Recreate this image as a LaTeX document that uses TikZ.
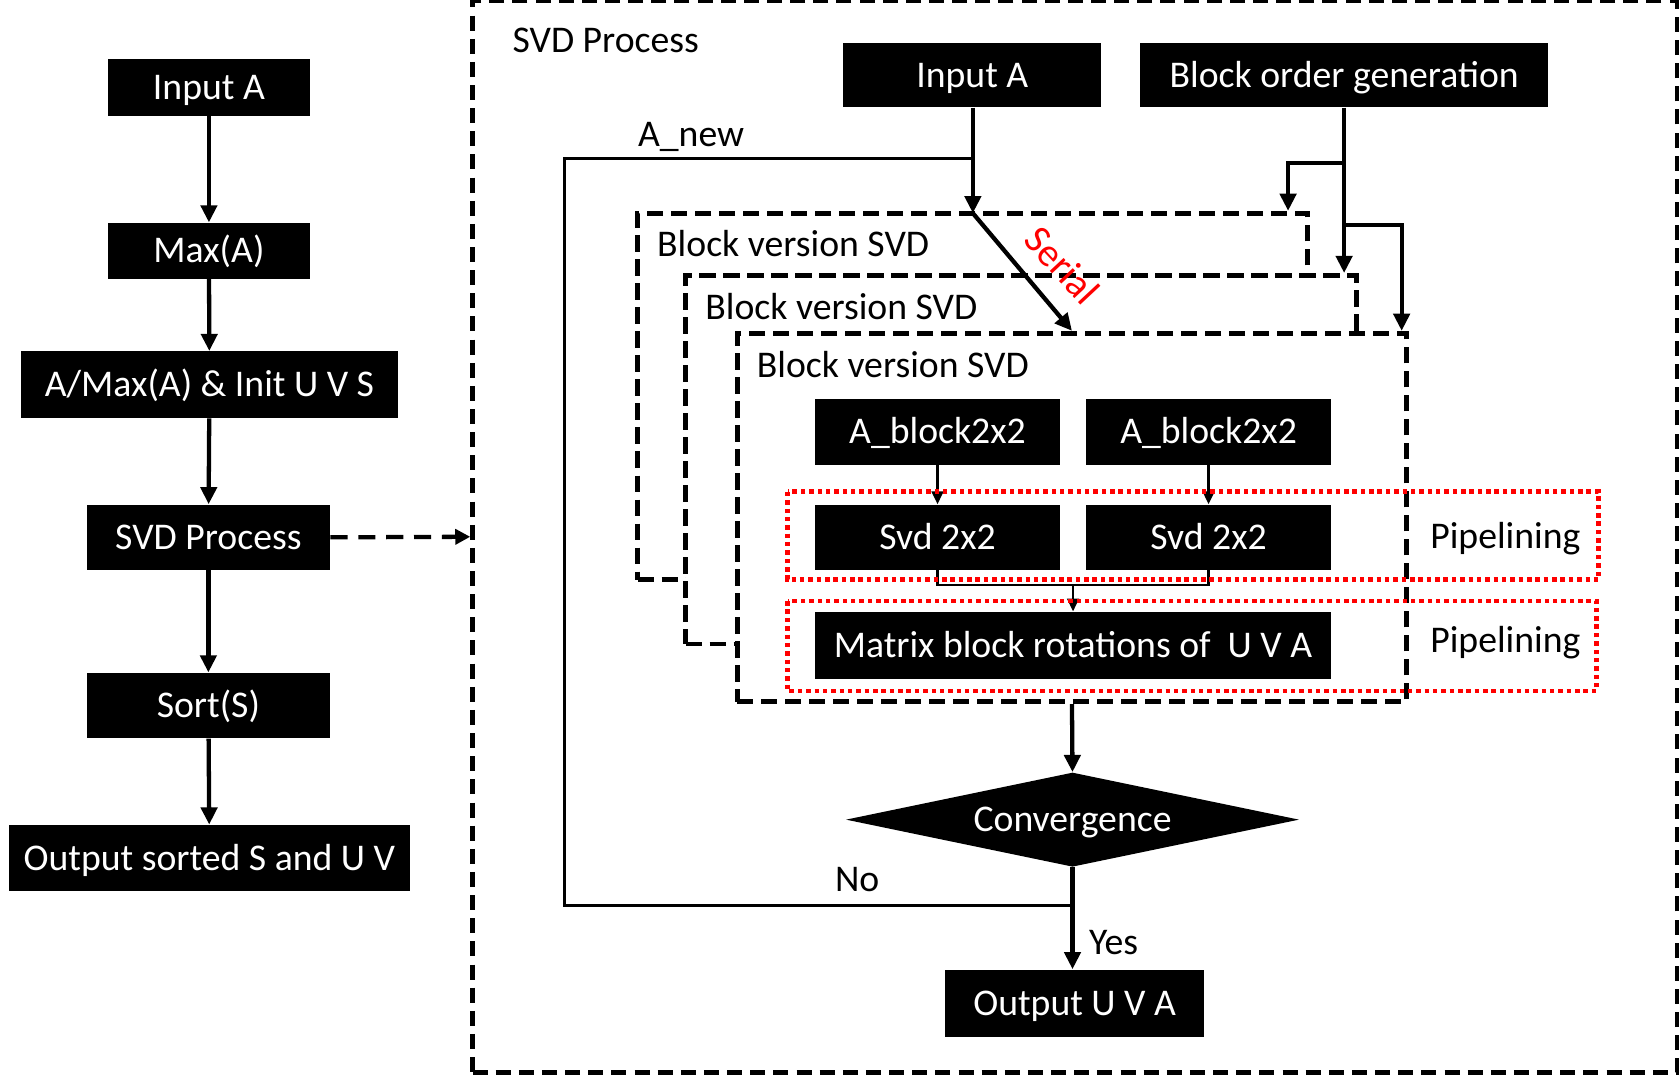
\documentclass[tikz,border=0pt]{standalone}
\usepackage{fontspec}
\setmainfont{Carlito}
\usetikzlibrary{arrows.meta,shapes.geometric,calc}
\begin{document}
\begin{tikzpicture}[x=0.5pt,y=-0.5pt,
  every node/.style={font=\fontsize{17.6}{20}\selectfont,text height=11.3pt,text depth=0pt},
  blk/.style={fill=black,text=white,inner sep=0pt,draw=none},
  arr/.style={line width=2pt,-{Triangle[length=8pt,width=7.5pt]}},
  tarr/.style={line width=1.1pt,-{Triangle[length=6pt,width=5.5pt]}},
  loopline/.style={line width=1.6pt},
  dbox/.style={draw=black,fill=white,line width=2.2pt,dash pattern=on 7.6pt off 3.6pt,inner sep=0pt},
  obox/.style={draw=black,line width=2.1pt,dash pattern=on 7pt off 3.8pt,inner sep=0pt},
  rbox/.style={draw=red,line width=2.2pt,dash pattern=on 2.1pt off 1.8pt},
  lbl/.style={text=black,inner sep=0pt}
]
\useasboundingbox (0,0) rectangle (1568,1005);

% ---------- left column ----------
\node[blk,minimum width=94pt,minimum height=26.5pt] (inA) at (195,81.5) {Input A};
\node[blk,minimum width=94pt,minimum height=26pt] (maxA) at (195,234) {Max(A)};
\node[blk,minimum width=175.5pt,minimum height=31pt] (norm) at (195.5,359) {A/Max(A) \& Init U V S};
\node[blk,minimum width=113.5pt,minimum height=30.5pt] (svdp) at (194.5,501.5) {SVD Process};
\node[blk,minimum width=113.5pt,minimum height=30.5pt] (sort) at (194.5,658.5) {Sort(S)};
\node[blk,minimum width=187.5pt,minimum height=31pt] (outS) at (195.5,801) {Output sorted S and U V};

\draw[arr] (inA) -- (maxA);
\draw[arr] (maxA) -- (norm);
\draw[arr] (norm) -- (svdp);
\draw[arr] (svdp) -- (sort);
\draw[arr] (sort) -- (outS);

% ---------- outer SVD process box ----------
\node[obox,minimum width=562pt,minimum height=500pt] (outer) at (1003,501) {};
\node[lbl,anchor=west] (svdlbl) at (478,38) {SVD Process};
\draw[line width=2pt,dash pattern=on 8pt off 5pt,-{Triangle[length=7pt,width=7pt]}] (svdp.east) -- (outer.west);

% ---------- top nodes ----------
\node[blk,minimum width=120.5pt,minimum height=30pt] (inA2) at (907.5,70) {Input A};
\node[blk,minimum width=190.5pt,minimum height=30pt] (bog) at (1254.5,70) {Block order generation};

% ---------- stacked block boxes ----------
\node[dbox,minimum width=312.5pt,minimum height=171pt] (b1) at (907.5,370) {};
\node[lbl,anchor=west] (b1l) at (613,228) {Block version SVD};
\node[dbox,minimum width=313pt,minimum height=172pt] (b2) at (953,429) {};
\node[lbl,anchor=west] (b2l) at (658,287) {Block version SVD};
\node[dbox,minimum width=312.5pt,minimum height=172pt] (b3) at (1000.5,483) {};
\node[lbl,anchor=west] (b3l) at (706,341) {Block version SVD};

% ---------- inner contents ----------
\node[blk,minimum width=114pt,minimum height=31pt] (ab1) at (875,403) {A\_block2x2};
\node[blk,minimum width=114pt,minimum height=31pt] (ab2) at (1128,403) {A\_block2x2};
\node[blk,minimum width=114pt,minimum height=30.5pt] (sv1) at (875,501.5) {Svd 2x2};
\node[blk,minimum width=114pt,minimum height=30.5pt] (sv2) at (1128,501.5) {Svd 2x2};
\node[blk,minimum width=240.5pt,minimum height=31.5pt] (mat) at (1001.5,602.5) {Matrix block rotations of\ \ U V A};

\draw[tarr] (ab1) -- (sv1);
\draw[tarr] (ab2) -- (sv2);
\coordinate (jm) at (1001.5,546);
\draw[line width=1.1pt] (sv1.south) |- (jm) -| (sv2.south);
\draw[tarr] (jm) -- (mat.north);

% pipelining boxes
\draw[rbox] (735,459) rectangle (1492,541);
\draw[rbox] (735,561) rectangle (1490,645);
\node[lbl] (pl1) at (1405,501) {Pipelining};
\node[lbl] (pl2) at (1405,598) {Pipelining};

% ---------- convergence ----------
\node[diamond,fill=black,text=white,inner sep=0pt,aspect=4.8,minimum width=211.5pt,minimum height=44pt] (conv) at (1001,765) {Convergence};
\node[blk,minimum width=121pt,minimum height=31.5pt] (outU) at (1003,936.5) {Output U V A};

\draw[arr] (b3.south) -- (conv.north);
\draw[arr] (conv.south) -- (conv.south |- outU.north);
\node[lbl,anchor=west] (yes) at (1016,880) {Yes};

% loop back (No / A_new)
\coordinate (jn) at (1001,845);
\coordinate (ja) at (908,148);
\draw[loopline] (conv.south) -- (jn) -| (527,148) -- (ja);
\node[lbl] (no) at (800,821) {No};
\node[lbl] (anew) at (645,125) {A\_new};

% input A into first block
\coordinate (t1) at (908,199);
\draw[arr] (inA2.south -| t1) -- (t1);
\draw[arr] (t1) -- (b3.north);
\node[lbl,text=red,rotate=-47,font=\fontsize{18.5}{20}\selectfont,text height=11.9pt] (serial) at (991,248) {Serial};

% block order generation
\coordinate (jb1) at (1254.5,152);
\coordinate (jb2) at (1256,210);
\draw[arr] (bog.south) -- (bog.south |- b2.north);
\draw[arr] (jb1) -| ([xshift=-10pt]b1.north east);
\draw[arr] (jb2) -| ([xshift=-3.5pt]b3.north east);
\end{tikzpicture}
\end{document}
